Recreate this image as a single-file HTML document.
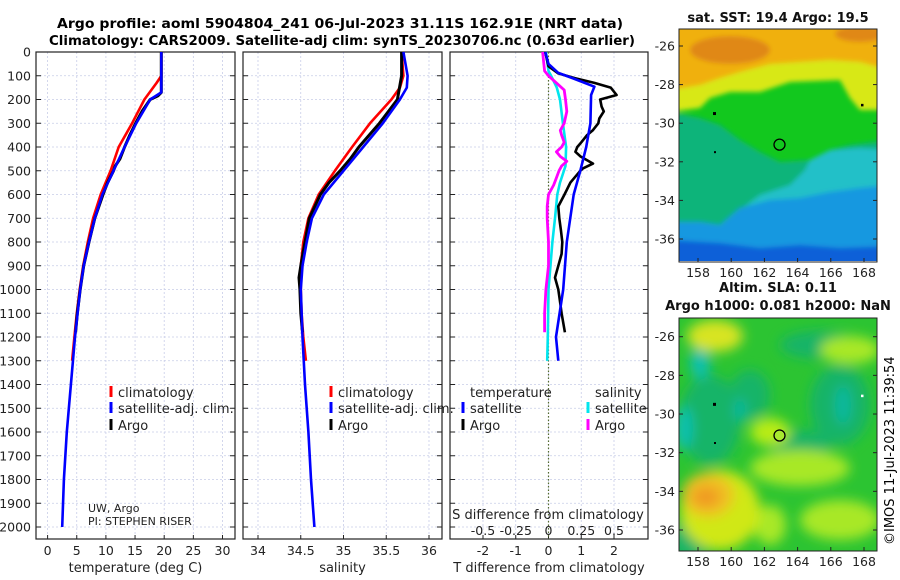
<!DOCTYPE html>
<html><head><meta charset="utf-8">
<style>
html,body{margin:0;padding:0;background:#fff;}
svg{display:block;font-family:"DejaVu Sans","Liberation Sans",sans-serif;}
</style></head>
<body>
<svg id="fig" width="900" height="580" viewBox="0 0 900 580">
<defs>
<filter id="blur2"><feGaussianBlur stdDeviation="2.5"/></filter>
<filter id="blur5"><feGaussianBlur stdDeviation="6"/></filter>
<clipPath id="clipTop"><rect x="679" y="29" width="198" height="232"/></clipPath>
<clipPath id="clipBot"><rect x="679" y="318" width="198" height="233"/></clipPath>
</defs>
<g font-weight="bold" font-size="13.5" text-anchor="middle">
<text x="340" y="28" textLength="566" lengthAdjust="spacingAndGlyphs">Argo profile: aoml 5904804_241 06-Jul-2023 31.11S 162.91E (NRT data)</text>
<text x="342" y="45" textLength="586" lengthAdjust="spacingAndGlyphs">Climatology: CARS2009. Satellite-adj clim: synTS_20230706.nc (0.63d earlier)</text>
</g>
<g id="panels"></g>
<g id="maps"></g>
<text transform="translate(894,545) rotate(-90)" font-size="13">©IMOS 11-Jul-2023 11:39:54</text>
</svg>
<script>
// ---------- DATA ----------
const depthTicks = [0,100,200,300,400,500,600,700,800,900,1000,1100,1200,1300,1400,1500,1600,1700,1800,1900,2000];
const tempTicks = [0,5,10,15,20,25,30];
const salTicks = [34,34.5,35,35.5,36];
const salTickLabels = ["34","34.5","35","35.5","36"];
const tdiffTicks = [-2,-1,0,1,2];
const sdiffTicks = [-0.5,-0.25,0,0.25,0.5];
const sdiffTickLabels = ["-0.5","-0.25","0","0.25","0.5"];

const climTdepth = [0,100,130,200,300,400,500,600,700,800,900,1000,1100,1200,1300];
const climTval   = [19.5,19.5,18.7,16.6,14.5,12.2,10.8,9.1,7.8,6.9,6.1,5.5,5.0,4.6,4.2];
const satTdepth = [0,170,200,300,400,500,600,700,800,900,1000,1200,1400,1600,1800,2000];
const satTval   = [19.5,19.5,17.6,15.2,13.2,11.3,9.4,8.1,7.1,6.2,5.6,4.7,4.0,3.3,2.8,2.5];
const argoTdepth = [0,170,185,200,250,300,350,400,450,480,500,550,600,700,800,900,1000,1100,1180];
const argoTval   = [19.5,19.5,18.9,17.6,16.2,15.1,14.1,13.2,12.4,11.6,11.3,10.3,9.5,8.1,7.1,6.2,5.6,5.1,4.8];

const climSdepth = [0,100,150,200,300,400,500,600,700,800,900,1000,1100,1200,1300];
const climSval   = [35.68,35.70,35.66,35.56,35.31,35.10,34.90,34.71,34.59,34.53,34.50,34.50,34.51,34.53,34.56];
const satSdepth = [0,100,150,200,300,400,500,600,700,800,900,1000,1200,1400,1600,1800,2000];
const satSval   = [35.70,35.75,35.74,35.66,35.46,35.23,35.00,34.77,34.63,34.57,34.52,34.50,34.52,34.55,34.59,34.62,34.66];
const argoSdepth = [0,100,200,300,400,450,500,550,600,700,800,900,950,1000,1100,1180];
const argoSval   = [35.68,35.68,35.63,35.42,35.18,35.08,34.96,34.83,34.73,34.60,34.55,34.50,34.48,34.49,34.50,34.52];

const dTsatDepth = [0,50,88,111,146,181,300,400,500,600,800,1000,1200,1300];
const dTsatVal   = [-0.1,0.0,0.3,0.75,1.4,1.3,1.28,1.15,0.97,0.77,0.56,0.45,0.23,0.3];
const dTargoDepth = [0,60,90,110,130,150,181,200,230,250,280,300,330,350,380,400,420,440,470,490,500,550,600,650,700,750,800,850,900,950,1000,1050,1100,1180];
const dTargoVal   = [-0.1,0.0,0.3,0.8,1.4,1.9,2.08,1.58,1.62,1.69,1.55,1.52,1.35,1.18,1.0,0.88,0.82,0.98,1.36,1.05,0.97,0.67,0.49,0.3,0.33,0.38,0.42,0.4,0.3,0.2,0.3,0.35,0.4,0.5];
const dSsatDepth = [0,80,100,150,200,300,400,480,550,600,700,800,1000,1200,1300];
const dSsatVal   = [-0.02,0.0,0.02,0.063,0.088,0.11,0.134,0.13,0.088,0.067,0.05,0.03,0.0,-0.005,-0.01];
const dSargoDepth = [0,80,100,130,160,200,250,300,330,350,380,400,420,440,460,480,500,530,560,600,650,700,800,900,1000,1100,1180];
const dSargoVal   = [-0.045,-0.03,0.0,0.06,0.12,0.13,0.14,0.12,0.09,0.10,0.12,0.10,0.06,0.09,0.14,0.1,0.08,0.06,0.04,0.0,-0.01,-0.01,0.0,0.0,-0.02,-0.03,-0.03];

const lonTicks = [158,160,162,164,166,168];
const latTicks = [-26,-28,-30,-32,-34,-36];
const argoLon = 162.91, argoLat = -31.11;
const sstTitle = "sat. SST: 19.4 Argo: 19.5";
const slaTitle1 = "Altim. SLA: 0.11";
const slaTitle2 = "Argo h1000: 0.081 h2000: NaN";

// ---------- HELPERS ----------
const NS = "http://www.w3.org/2000/svg";
function mk(tag, attrs, parent){ const e=document.createElementNS(NS,tag); for(const k in attrs) e.setAttribute(k,attrs[k]); if(parent) parent.appendChild(e); return e; }
const yD = d => 52 + d*0.2375;
const xT = t => 47.6 + t*5.83;
const xS = s => 258 + (s-34)*85.5;
const xDT = t => 548.5 + t*32.75;
const xDS = s => 548.5 + s*131;
const BOT = 539;

const panels = document.getElementById('panels');
function panel(name, x0, x1, xTicksArr, xfun, labels, title){
  const g = mk('g',{},panels);
  
  
  // grid
  depthTicks.forEach(d=>{ mk('line',{x1:x0,x2:x1,y1:yD(d),y2:yD(d),stroke:'#c8cde8','stroke-width':0.8,'stroke-dasharray':'2,2'},g); });
  xTicksArr.forEach(v=>{ const x=xfun(v); mk('line',{x1:x,x2:x,y1:52,y2:BOT,stroke:'#c8cde8','stroke-width':0.8,'stroke-dasharray':'2,2'},g); });
  // box
  const box = mk('rect',{x:x0,y:52,width:x1-x0,height:BOT-52,fill:'none',stroke:'#222','stroke-width':1.2},g);
  
  
  // ticks
  depthTicks.forEach(d=>{ mk('line',{x1:x0,x2:x0+5,y1:yD(d),y2:yD(d),stroke:'#222'},g); mk('line',{x1:x1-5,x2:x1,y1:yD(d),y2:yD(d),stroke:'#222'},g); });
  xTicksArr.forEach((v,i)=>{ const x=xfun(v); mk('line',{x1:x,x2:x,y1:BOT-4,y2:BOT,stroke:'#222'},g);
    const t=mk('text',{x:x,y:555,'font-size':12.5,'text-anchor':'middle',fill:'#222'},g); t.textContent=labels[i];
    
     });
  const tt=mk('text',{x:(x0+x1)/2,y:572,'font-size':13,'text-anchor':'middle',fill:'#222'},g); tt.textContent=title;
  
  
  return g;
}
function line(g, depths, vals, xfun, color, w, name){
  const pts = depths.map((d,i)=>xfun(vals[i]).toFixed(1)+','+yD(d).toFixed(1)).join(' ');
  const p = mk('polyline',{points:pts,fill:'none',stroke:color,'stroke-width':w,'stroke-linejoin':'round'},g);
  
  
}
function legendEntry(g, x, y, color, label){
  mk('line',{x1:x,x2:x,y1:y-6,y2:y+5,stroke:color,'stroke-width':3},g);
  const t=mk('text',{x:x+7,y:y+5,'font-size':13,fill:'#222'},g); t.textContent=label;
  
  
}

// depth labels
const dl = mk('g',{},panels);


depthTicks.forEach(d=>{ const t=mk('text',{x:31,y:yD(d)+4.5,'font-size':12.5,'text-anchor':'end',fill:'#222'},dl); t.textContent=d; });

// panel 1 temperature
const p1 = panel('temperature-panel',36,235,tempTicks,xT,tempTicks.map(String),'temperature (deg C)');
line(p1, climTdepth, climTval, xT, '#ff0000', 2.6, 'climatology-temperature-line');
line(p1, argoTdepth, argoTval, xT, '#000000', 3, 'argo-temperature-line');
line(p1, satTdepth, satTval, xT, '#0000ff', 2.6, 'satellite-temperature-line');
legendEntry(p1,111,392,'#ff0000','climatology');
legendEntry(p1,111,408,'#0000ff','satellite-adj. clim.');
legendEntry(p1,111,425,'#000000','Argo');
const c1=mk('text',{x:88,y:512,'font-size':11,fill:'#222'},p1); c1.textContent='UW, Argo';


const c2=mk('text',{x:88,y:525,'font-size':11,fill:'#222'},p1); c2.textContent='PI: STEPHEN RISER';



// panel 2 salinity
const p2 = panel('salinity-panel',243,442,salTicks,xS,salTickLabels,'salinity');
line(p2, climSdepth, climSval, xS, '#ff0000', 2.6, 'climatology-salinity-line');
line(p2, argoSdepth, argoSval, xS, '#000000', 3, 'argo-salinity-line');
line(p2, satSdepth, satSval, xS, '#0000ff', 2.6, 'satellite-salinity-line');
legendEntry(p2,331,392,'#ff0000','climatology');
legendEntry(p2,331,408,'#0000ff','satellite-adj. clim.');
legendEntry(p2,331,425,'#000000','Argo');

// panel 3 differences
const p3 = panel('difference-panel',450,648,tdiffTicks,xDT,tdiffTicks.map(String),'T difference from climatology');
mk('line',{x1:548.5,x2:548.5,y1:52,y2:BOT,stroke:'#556b2f','stroke-width':1.2,'stroke-dasharray':'1.5,2'},p3);
line(p3, dSsatDepth, dSsatVal, xDS, '#00e5ee', 2.6, 'satellite-salinity-diff-line');
line(p3, dSargoDepth, dSargoVal, xDS, '#ff00ff', 2.8, 'argo-salinity-diff-line');
line(p3, dTargoDepth, dTargoVal, xDT, '#000000', 2.6, 'argo-temperature-diff-line');
line(p3, dTsatDepth, dTsatVal, xDT, '#0000ff', 2.6, 'satellite-temperature-diff-line');
const lt=mk('text',{x:470,y:397,'font-size':13,fill:'#222'},p3); lt.textContent='temperature';


const ls=mk('text',{x:595,y:397,'font-size':13,fill:'#222'},p3); ls.textContent='salinity';


legendEntry(p3,463,408,'#0000ff','satellite');
legendEntry(p3,463,425,'#000000','Argo');
legendEntry(p3,588,408,'#00e5ee','satellite');
legendEntry(p3,588,425,'#ff00ff','Argo');
const sdt=mk('text',{x:548,y:519,'font-size':13,'text-anchor':'middle',fill:'#222'},p3); sdt.textContent='S difference from climatology';


sdiffTicks.forEach((v,i)=>{ const t=mk('text',{x:xDS(v),y:535,'font-size':12.5,'text-anchor':'middle',fill:'#222'},p3); t.textContent=sdiffTickLabels[i];
  
   });

// ---------- MAPS ----------
const maps = document.getElementById('maps');
const mx = lon => 698 + (lon-158)*16.6;
function mapFrame(name, y0, latY, titleLines, clipId, drawFill){
  const g = mk('g',{},maps);
  
  
  const fillG = mk('g',{'clip-path':'url(#'+clipId+')'},g);
  drawFill(fillG);
  mk('rect',{x:679,y:y0,width:198,height:233,fill:'none',stroke:'#222','stroke-width':1},g);
  latTicks.forEach(l=>{ const y=latY(l); mk('line',{x1:679,x2:683,y1:y,y2:y,stroke:'#222'},g); mk('line',{x1:873,x2:877,y1:y,y2:y,stroke:'#222'},g);
    const t=mk('text',{x:675,y:y+4.5,'font-size':12.5,'text-anchor':'end',fill:'#222'},g); t.textContent=l;
    
     });
  lonTicks.forEach(l=>{ const x=mx(l); mk('line',{x1:x,x2:x,y1:y0+229,y2:y0+233,stroke:'#222'},g);
    const t=mk('text',{x:x,y:y0+248,'font-size':12.5,'text-anchor':'middle',fill:'#222'},g); t.textContent=l;
    
     });
  titleLines.forEach((s,i)=>{ const t=mk('text',{x:778,y:titleLines.length===1?y0-7:y0-26+i*18,'font-size':13,'font-weight':'bold','text-anchor':'middle',fill:'#111'},g); t.textContent=s;
    
     });
  // markers
  const yA = latY(argoLat);
  const c = mk('circle',{cx:mx(argoLon),cy:yA,r:5.5,fill:name==='sla-map'?'#a8e830':'none',stroke:'#000','stroke-width':1.3},g);
  
  
  mk('rect',{x:713,y:latY(-29.5)-1.5,width:3,height:3,fill:'#000'},g);
  mk('rect',{x:714,y:latY(-31.5)-1,width:2,height:2,fill:'#000'},g);
  mk('rect',{x:861,y:latY(-29.05)-1,width:2.5,height:2.5,fill:name==='sla-map'?'#fff':'#000'},g);
  return g;
}
// SST map
const latTop = l => 46 + (-26-l)*19.3;
mapFrame('sst-map',29,latTop,[sstTitle],'clipTop',g=>{
  mk('rect',{x:679,y:29,width:198,height:232,fill:'#12c81e'},g);
  const f = mk('g',{filter:'url(#blur2)'},g);
  mk('polygon',{points:'670,20 890,20 890,110 860,110 850,98 840,80 790,82 760,92 730,92 710,98 700,108 670,112',fill:'#d8e818'},f);
  mk('polygon',{points:'670,20 890,20 890,70 860,62 830,60 800,62 770,64 740,72 720,78 700,85 670,90',fill:'#f0b010'},f);
  mk('ellipse',{cx:730,cy:50,rx:40,ry:14,fill:'#e08818'},f);
  mk('ellipse',{cx:860,cy:34,rx:25,ry:8,fill:'#e08818'},f);
  mk('polygon',{points:'670,112 700,118 720,125 740,140 760,152 780,162 810,160 830,150 850,145 890,140 890,270 670,270',fill:'#10b47a'},f);
  mk('polygon',{points:'810,160 830,150 860,148 890,150 890,270 760,270 740,210 760,195 790,185 805,170',fill:'#20c0c8'},f);
  mk('polygon',{points:'670,222 700,222 720,225 740,208 770,200 800,198 830,192 860,188 890,185 890,270 670,270',fill:'#1898e0'},f);
  mk('polygon',{points:'670,240 720,243 760,248 800,245 840,248 890,246 890,270 670,270',fill:'#1060d8'},f);
});
// SLA map
const latBot = l => 336.7 + (-26-l)*19.33;
mapFrame('sla-map',318,latBot,[slaTitle1,slaTitle2],'clipBot',g=>{
  mk('rect',{x:679,y:318,width:198,height:233,fill:'#2cc432'},g);
  const f = mk('g',{filter:'url(#blur5)'},g);
  [[820,345,40,14,'#14b468'],[710,420,30,45,'#14b468'],[750,395,20,25,'#14b468'],[840,405,30,40,'#14b468'],[800,445,30,15,'#14b468'],[690,540,20,20,'#14b468'],
   [700,363,10,16,'#10c0b0'],[684,428,9,22,'#10c0b0'],[843,405,8,20,'#10b8a0'],[740,410,6,12,'#10b8a0'],
   [715,336,28,16,'#d8e420'],[770,432,20,14,'#b8ec18'],[850,350,30,14,'#a8e828'],[800,468,50,18,'#a8e828'],[840,520,40,20,'#a8e828'],[770,525,16,20,'#a8e828'],[720,510,40,40,'#d0e818'],
   [708,495,26,22,'#f0c020'],[706,497,14,10,'#f09a20']]
  .forEach(b=>{ mk('ellipse',{cx:b[0],cy:b[1],rx:b[2],ry:b[3],fill:b[4]},f); });
});
</script>
</body></html>
